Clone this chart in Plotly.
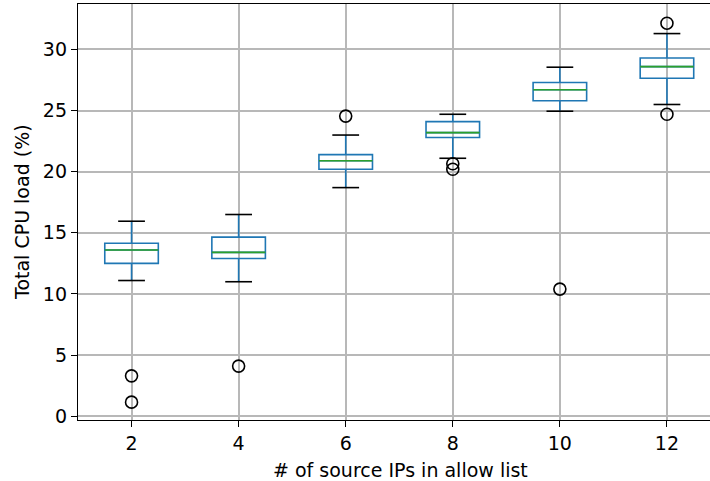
import plotly.graph_objects as go

# Data
categories = [2, 4, 6, 8, 10, 12]
q1 = [12.5, 12.9, 20.2, 22.8, 25.8, 27.65]
median = [13.6, 13.4, 20.9, 23.2, 26.7, 28.6]
q3 = [14.15, 14.65, 21.4, 24.1, 27.3, 29.3]
lower_whisker = [11.1, 11.0, 18.7, 21.1, 24.95, 25.5]
upper_whisker = [15.95, 16.5, 23.0, 24.7, 28.55, 31.3]
outlier_x = [2, 2, 4, 6, 8, 8, 10, 12, 12]
outlier_y = [3.3, 1.15, 4.1, 24.55, 20.65, 20.2, 10.4, 32.15, 24.7]
y_ticks = [0, 5, 10, 15, 20, 25, 30]

BOX_W = 1.0
CAP_W = 0.5
FONT = "DejaVu Sans"
FS = 19

fig = go.Figure()

fig.add_trace(go.Box(
    x=categories, q1=q1, median=median, q3=q3,
    lowerfence=lower_whisker, upperfence=upper_whisker,
    width=BOX_W, whiskerwidth=0, boxpoints=False,
    line=dict(color="#1f77b4", width=1.6),
    fillcolor="rgba(0,0,0,0)", showlegend=False, hoverinfo="skip",
))

# medians (green)
mx, my = [], []
for c, m in zip(categories, median):
    mx += [c - BOX_W / 2, c + BOX_W / 2, None]
    my += [m, m, None]
fig.add_trace(go.Scatter(x=mx, y=my, mode="lines",
                         line=dict(color="#2ca02c", width=1.6),
                         showlegend=False, hoverinfo="skip"))

# caps (black)
cx, cy = [], []
for c, lo, hi in zip(categories, lower_whisker, upper_whisker):
    cx += [c - CAP_W / 2, c + CAP_W / 2, None, c - CAP_W / 2, c + CAP_W / 2, None]
    cy += [lo, lo, None, hi, hi, None]
fig.add_trace(go.Scatter(x=cx, y=cy, mode="lines",
                         line=dict(color="black", width=1.6),
                         showlegend=False, hoverinfo="skip"))

# outliers
fig.add_trace(go.Scatter(x=outlier_x, y=outlier_y, mode="markers",
                         marker=dict(symbol="circle-open", size=12,
                                     color="black", line=dict(width=1.6)),
                         showlegend=False, hoverinfo="skip"))

axis_common = dict(
    showgrid=True, gridcolor="#b8b8b8", gridwidth=1.6,
    zeroline=False, showline=True, linecolor="black", linewidth=1.3,
    ticks="outside", ticklen=6, tickwidth=1.3, tickcolor="black",
    tickfont=dict(family=FONT, size=FS, color="black"),
)

fig.update_xaxes(range=[1, 12.804], tickvals=categories,
                 ticktext=[str(c) for c in categories], mirror=True,
                 **axis_common)
fig.update_yaxes(range=[-0.31, 33.72], tickvals=y_ticks,
                 ticktext=[str(t) for t in y_ticks], **axis_common)

fig.update_layout(
    width=710, height=481,
    margin=dict(l=78, r=0, t=4, b=61, autoexpand=False),
    plot_bgcolor="white", paper_bgcolor="white",
    font=dict(family=FONT, size=FS, color="black"),
    annotations=[
        dict(text="# of source IPs in allow list", xref="paper", yref="paper",
             x=322 / 632, y=0, yshift=-37, xanchor="center",
             yanchor="top", showarrow=False,
             font=dict(family=FONT, size=FS, color="black")),
        dict(text="Total CPU load (%)", xref="paper", yref="paper",
             x=0, xshift=-56, y=0.5, textangle=-90,
             xanchor="center", yanchor="middle", showarrow=False,
             font=dict(family=FONT, size=FS, color="black")),
    ],
)

fig.write_html("out.html")
